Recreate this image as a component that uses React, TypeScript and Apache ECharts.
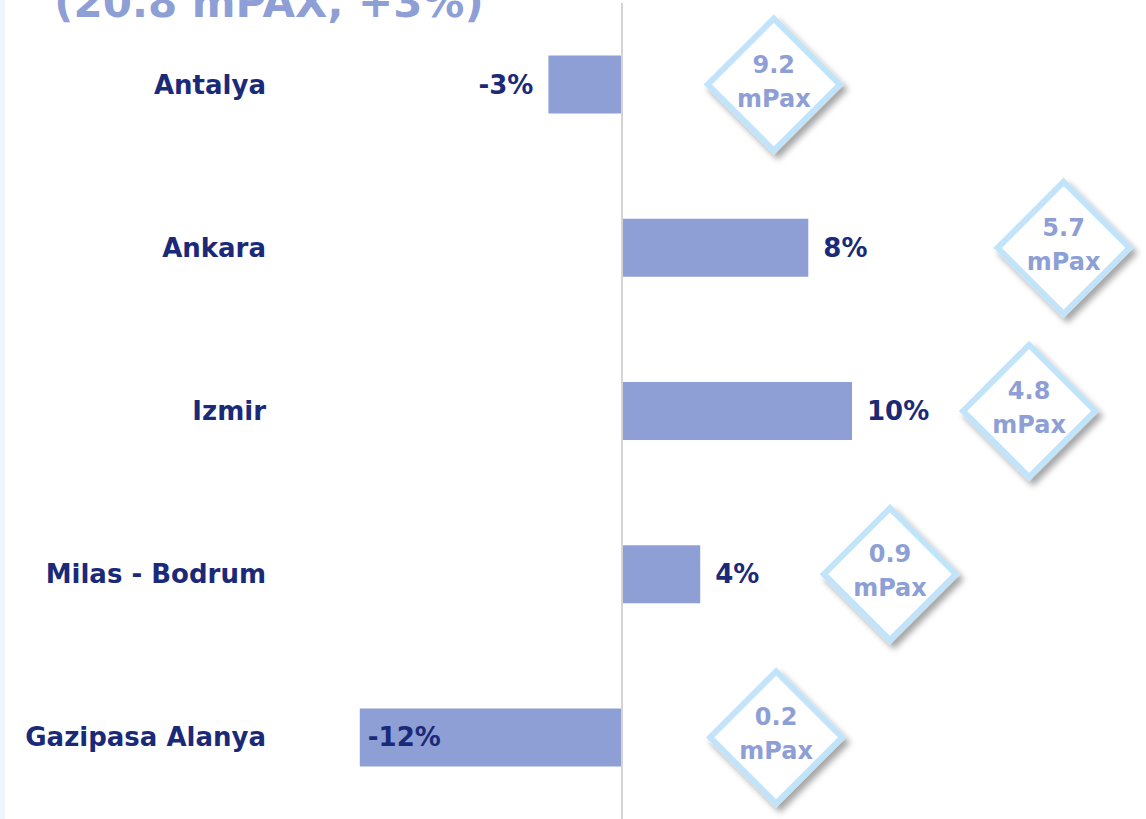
import React, { useEffect, useRef } from "react";
import * as echarts from "echarts";

const airports = ["Antalya", "Ankara", "Izmir", "Milas - Bodrum", "Gazipasa Alanya"];
const growthPct = [-3.2, 8.1, 10.0, 3.4, -11.4];
const growthLabels = ["-3%", "8%", "10%", "4%", "-12%"];
const paxMillions = ["9.2", "5.7", "4.8", "0.9", "0.2"];
const titleText = "(20.8 mPAX, +3%)";

// layout only: horizontal placement of the passenger diamonds, in axis units
const diamondX = [6.6, 19.2, 17.7, 11.65, 6.7];

const NAVY = "#1b2a78";
const BAR = "#8e9fd5";
const FONT = "'DejaVu Sans', sans-serif";

export default function App() {
  const ref = useRef<HTMLDivElement>(null);
  useEffect(() => {
    document.body.style.margin = "0";
    const chart = echarts.init(ref.current!, null, { renderer: "svg" });
    chart.setOption({
      animation: false,
      backgroundColor: "#ffffff",
      grid: { left: 300, width: 828, top: 3, height: 819, containLabel: false },
      xAxis: {
        type: "value",
        min: -14,
        max: 22,
        show: false,
      },
      yAxis: {
        type: "category",
        data: airports,
        inverse: true,
        axisLine: { show: false },
        axisTick: { show: false },
        splitLine: { show: false },
        axisLabel: {
          margin: 34,
          color: NAVY,
          fontFamily: FONT,
          fontWeight: "bold",
          fontSize: 26,
        },
      },
      series: [
        {
          type: "bar",
          barWidth: 58,
          itemStyle: { color: BAR },
          data: growthPct.map((v, i) => ({
            value: v,
            label: {
              show: true,
              formatter: growthLabels[i],
              position: v < 0 ? (v < -6 ? "insideLeft" : "left") : "right",
              distance: v < -6 ? 8 : 15,
              color: NAVY,
              fontFamily: FONT,
              fontWeight: "bold",
              fontSize: 26,
            },
          })),
          markLine: {
            silent: true,
            symbol: "none",
            label: { show: false },
            lineStyle: { color: "#d4d4d4", width: 2, type: "solid" },
            data: [{ xAxis: 0 }],
          },
        },
        {
          type: "scatter",
          symbol: "diamond",
          symbolSize: 132,
          itemStyle: {
            color: "#ffffff",
            opacity: 1,
            borderColor: "#c2e4fa",
            borderWidth: 6,
            shadowColor: "rgba(0,0,0,0.35)",
            shadowBlur: 6,
            shadowOffsetX: 4,
            shadowOffsetY: 5,
          },
          label: {
            show: true,
            position: "inside",
            offset: [0, -3],
            color: BAR,
            fontFamily: FONT,
            fontWeight: "bold",
            fontSize: 24,
            lineHeight: 34,
            formatter: (p: any) => paxMillions[p.dataIndex] + "\nmPax",
          },
          data: diamondX.map((x, i) => [x, airports[i]]),
          z: 5,
        },
      ],
      graphic: [
        {
          type: "rect",
          shape: { x: 0, y: 0, width: 5, height: 819 },
          style: { fill: "#eef5fb" },
        },
        {
          type: "text",
          x: 269,
          y: 23,
          style: {
            text: titleText,
            fill: BAR,
            font: "bold 42px 'DejaVu Sans', sans-serif",
            textAlign: "center",
            textVerticalAlign: "bottom",
          },
        },
      ],
    });
    return () => chart.dispose();
  }, []);
  return <div ref={ref} style={{ width: 1146, height: 819 }} />;
}
